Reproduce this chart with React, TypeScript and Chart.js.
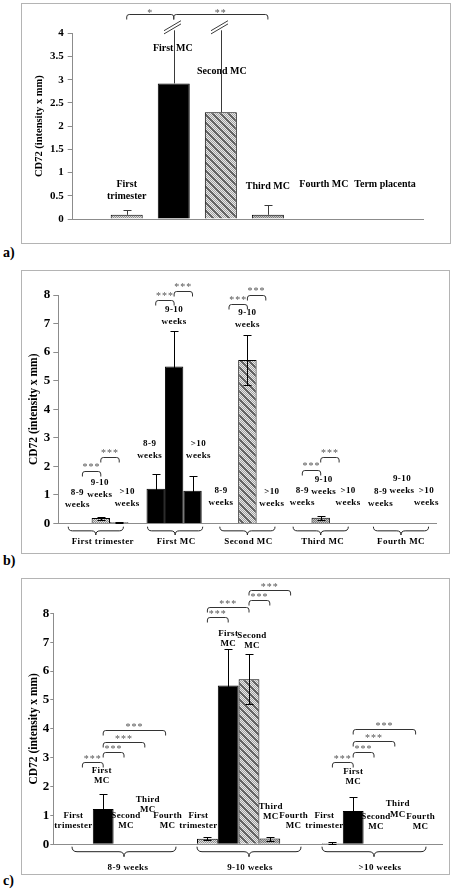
import React, { useEffect, useRef } from 'react';
import { Chart, registerables } from 'chart.js';

Chart.register(...registerables);

const SERIF = '"Liberation Serif", "Times New Roman", serif';

// ---------------- panel a ----------------
const catsA = ['First trimester', 'First MC', 'Second MC', 'Third MC', 'Fourth MC', 'Term placenta'];
const labelTextA = ['First\ntrimester', 'First MC', 'Second MC', 'Third MC', 'Fourth MC', 'Term placenta'];
const meanA = [0.09, 2.92, 2.3, 0.09, 0, 0];
const errA = [0.11, 2.6, 3.0, 0.21, 0, 0];
const yMaxA = 4;
const yStepA = 0.5;
const labelYA = [0.61, 3.68, 3.17, 0.71, 0.75, 0.75];
const labelDxA = [0, -1, 1, 0, 9, 23];
const sigFromA = [0, 1];
const sigToA = [1, 3];
const sigYA = [4.42, 4.42];
const sigTextA = ['*', '**'];

// ---------------- panels b and c ----------------
const groups = ['First trimester', 'First MC', 'Second MC', 'Third MC', 'Fourth MC'];
const weeks = ['8-9 weeks', '9-10 weeks', '>10 weeks'];
const meanFirstTrimester = [0, 0.19, 0.04];
const meanFirstMC = [1.22, 5.5, 1.15];
const meanSecondMC = [0, 5.72, 0];
const meanThirdMC = [0, 0.2, 0];
const meanFourthMC = [0, 0, 0];
const sdFirstTrimester = [0, 0.05, 0.03];
const sdFirstMC = [0.53, 1.25, 0.5];
const sdSecondMC = [0, 0.87, 0];
const sdThirdMC = [0, 0.07, 0];
const sdFourthMC = [0, 0, 0];
const means = [meanFirstTrimester, meanFirstMC, meanSecondMC, meanThirdMC, meanFourthMC];
const sds = [sdFirstTrimester, sdFirstMC, sdSecondMC, sdThirdMC, sdFourthMC];
const yMaxBC = 8;
const yStepBC = 1;

// b: label heights / offsets [group][week]
const labelYB = [[0.87, 1.22, 0.9], [2.6, 7.29, 2.6], [0.94, 7.17, 0.92], [0.94, 1.31, 0.94], [0.92, 1.35, 0.94]];
const labelDxB = [[-5, -1, 8], [-6, 0, 6], [-8, 0, 6], [0, 3, 9], [5, 8, 14]];
const sigGroupB = [0, 0, 1, 1, 2, 2, 3, 3];
const sigFromB = [0, 1, 0, 1, 0, 1, 0, 1];
const sigToB = [1, 2, 1, 2, 1, 2, 1, 2];
const sigYB = [1.84, 2.33, 7.83, 8.14, 7.7, 8.0, 1.87, 2.33];
const braceDxB = [-5, 1, 0, 0, 7];
const groupLabelDxB = [2, 2, 1, 2, 7];

// c: label heights / offsets [week][group]
const labelYC = [[0.81, 2.38, 0.81, 1.36, 0.81], [0.83, 7.12, 7.06, 1.14, 0.81], [0.81, 2.35, 0.78, 1.22, 0.78]];
const labelDxC = [[-9, -1.5, 2, 3, 2], [-9, 0, 3, 1, 3], [-8, 0, 2, 3, 5]];
const sigWeekC = [0, 0, 0, 0, 1, 1, 1, 1, 2, 2, 2, 2];
const sigFromC = [0, 1, 1, 1, 0, 0, 2, 2, 0, 1, 1, 1];
const sigToC = [1, 2, 3, 4, 1, 2, 3, 4, 1, 2, 3, 4];
const sigYC = [2.85, 3.19, 3.56, 3.97, 7.87, 8.21, 8.45, 8.8, 2.86, 3.18, 3.59, 3.98];
const weekLabelDxC = [4, 1, 6];

const fillKind: Record<string, string> = {
  'First trimester': 'dots',
  'First MC': 'black',
  'Second MC': 'diag',
  'Third MC': 'gray',
  'Fourth MC': 'dots',
  'Term placenta': 'dots',
};

function makeFill(ctx: any, name: string): any {
  const kind = fillKind[name];
  if (kind === 'black') return '#000';
  const c = document.createElement('canvas');
  const s = 8;
  c.width = s;
  c.height = s;
  const g = c.getContext('2d')!;
  for (let y = 0; y < s; y++) {
    for (let x = 0; x < s; x++) {
      let col: string;
      const odd = (x + y) % 2 === 0;
      if (kind === 'dots') col = odd ? '#8e8e8e' : '#dcdcdc';
      else if (kind === 'gray') col = odd ? '#7c7c7c' : '#c2c2c2';
      else {
        const d = (((x - y) % 8) + 8) % 8;
        col = d < 3 ? '#666' : odd ? '#a4a4a4' : '#e8e8e8';
      }
      g.fillStyle = col;
      g.fillRect(x, y, 1, 1);
    }
  }
  return ctx.createPattern(c, 'repeat');
}

const bar = (chart: any, d: number, i: number) => chart.getDatasetMeta(d).data[i] as any;
const py = (chart: any, v: number) => chart.scales.y.getPixelForValue(v);

function drawLabel(ctx: any, text: string, x: number, yc: number, lh: number) {
  const lines = text.split('\n');
  lines.forEach((ln, k) => ctx.fillText(ln, x, yc + (k - (lines.length - 1) / 2) * lh));
}

function drawErrorBars(chart: any, both: boolean, cap: number, color: string) {
  const ctx = chart.ctx;
  const ys = chart.scales.y;
  ctx.save();
  ctx.strokeStyle = color;
  ctx.lineWidth = 1;
  chart.data.datasets.forEach((ds: any, d: number) => {
    const meta = chart.getDatasetMeta(d);
    meta.data.forEach((el: any, i: number) => {
      const v = ds.data[i].y;
      const e = ds.errors[i];
      if (!e) return;
      const x = Math.round(el.x) + 0.5;
      const over = v + e > ys.max;
      const yTop = over ? ys.top - 3 : Math.round(ys.getPixelForValue(v + e)) + 0.5;
      const lowV = Math.max(v - e, ys.min);
      const yBot = both ? Math.round(ys.getPixelForValue(lowV)) + 0.5 : ys.getPixelForValue(v);
      ctx.beginPath();
      ctx.moveTo(x, yBot);
      ctx.lineTo(x, yTop);
      if (!over) {
        ctx.moveTo(x - cap, yTop);
        ctx.lineTo(x + cap, yTop);
      }
      if (both && v - e > ys.min) {
        ctx.moveTo(x - cap, yBot);
        ctx.lineTo(x + cap, yBot);
      }
      ctx.stroke();
      if (over) {
        const cx = x - 2;
        const cy = ys.top - 6;
        [-1.6, 1.6].forEach((off) => {
          ctx.beginPath();
          ctx.moveTo(cx - 8.5, cy + 5 + off);
          ctx.lineTo(cx + 8.5, cy - 5 + off);
          ctx.stroke();
        });
      }
    });
  });
  ctx.restore();
}

function drawSig(ctx: any, x1: number, x2: number, yRaw: number, text: string, starDy: number) {
  const h = 5;
  const r = 2.5;
  const y = Math.round(yRaw) + 0.5;
  ctx.beginPath();
  ctx.moveTo(x1, y + h);
  ctx.lineTo(x1, y + r);
  ctx.quadraticCurveTo(x1, y, x1 + r, y);
  ctx.lineTo(x2 - r, y);
  ctx.quadraticCurveTo(x2, y, x2, y + r);
  ctx.lineTo(x2, y + h);
  ctx.stroke();
  ctx.fillText(text, (x1 + x2) / 2, y + starDy);
}

function drawBrace(ctx: any, x1: number, x2: number, y: number, h: number) {
  const xm = (x1 + x2) / 2;
  const ym = y + h / 2;
  const r = Math.min(h / 2, 6);
  ctx.beginPath();
  ctx.moveTo(x1, y);
  ctx.quadraticCurveTo(x1, ym, x1 + r, ym);
  ctx.lineTo(xm - r, ym);
  ctx.quadraticCurveTo(xm, ym, xm, y + h);
  ctx.quadraticCurveTo(xm, ym, xm + r, ym);
  ctx.lineTo(x2 - r, ym);
  ctx.quadraticCurveTo(x2, ym, x2, y);
  ctx.stroke();
}

function yAxis(max: number, step: number, tickSize: number, titleSize: number, width: number, titlePad: number, tickLen: number, tickPad: number) {
  return {
    min: 0,
    max,
    ticks: {
      stepSize: step,
      font: { family: SERIF, weight: 'bold', size: tickSize },
      color: '#000',
      padding: tickPad,
      callback: (v: any) => `${v}`,
    },
    grid: { drawOnChartArea: false, drawTicks: true, tickLength: tickLen, color: '#8c8c8c' },
    border: { display: true, color: '#8c8c8c', width: 1 },
    title: {
      display: true,
      text: 'CD72 (intensity x mm)',
      font: { family: SERIF, weight: 'bold', size: titleSize },
      color: '#000',
      padding: { top: titlePad, bottom: 0 },
    },
    afterFit: (s: any) => {
      s.width = width;
    },
  };
}

function xAxis(min: number, max: number, tickVals: number[]) {
  return {
    type: 'linear',
    min,
    max,
    offset: false,
    afterBuildTicks: (s: any) => {
      s.ticks = tickVals.map((v) => ({ value: v }));
    },
    ticks: { display: false },
    grid: { display: false, offset: false },
    border: { display: true, color: '#8c8c8c', width: 1 },
    afterFit: (s: any) => {
      s.height = 0;
    },
  };
}

const commonOpts = {
  animation: false,
  responsive: false,
  maintainAspectRatio: false,
  events: [],
  plugins: { legend: { display: false }, tooltip: { enabled: false } },
};

// ---------------- builders ----------------
function buildA(ctx: any) {
  const datasets = catsA.map((name, i) => ({
    label: name,
    data: [{ x: 0, y: meanA[i] }],
    errors: [errA[i]],
    backgroundColor: makeFill(ctx, name),
    borderColor: '#000',
    borderWidth: 1,
    categoryPercentage: 0.806,
    barPercentage: 0.68,
  }));
  const plugin = {
    id: 'annotA',
    beforeDatasetsDraw(chart: any) {
      const c = chart.ctx;
      c.save();
      c.font = `bold 10px ${SERIF}`;
      c.fillStyle = '#000';
      c.textAlign = 'center';
      c.textBaseline = 'middle';
      labelTextA.forEach((t, i) => {
        drawLabel(c, t, bar(chart, i, 0).x + labelDxA[i], py(chart, labelYA[i]), 12.3);
      });
      c.restore();
    },
    afterDatasetsDraw(chart: any) {
      drawErrorBars(chart, false, 4, '#3a3a3a');
    },
    afterDraw(chart: any) {
      const c = chart.ctx;
      c.save();
      c.strokeStyle = '#333';
      c.fillStyle = '#555';
      c.lineWidth = 1;
      c.font = `10px ${SERIF}`;
      c.textAlign = 'center';
      c.textBaseline = 'alphabetic';
      (c as any).letterSpacing = '1px';
      sigFromA.forEach((f, k) => {
        drawSig(c, bar(chart, f, 0).x, bar(chart, sigToA[k], 0).x, py(chart, sigYA[k]), sigTextA[k], 1);
      });
      c.restore();
    },
  };
  return {
    type: 'bar',
    data: { datasets },
    options: {
      ...commonOpts,
      layout: { padding: { left: 0, top: 29.3, right: 27, bottom: 24 } },
      scales: {
        x: xAxis(-0.49, 0.51, [0]),
        y: yAxis(yMaxA, yStepA, 11, 10.5, 50.7, 11, 5, 4),
      },
    },
    plugins: [plugin],
  };
}

function buildB(ctx: any) {
  const datasets = weeks.map((w, wi) => ({
    label: w,
    data: groups.map((g, gi) => ({ x: gi, y: means[gi][wi] })),
    errors: groups.map((g, gi) => sds[gi][wi]),
    backgroundColor: groups.map((g) => makeFill(ctx, g)),
    borderColor: '#000',
    borderWidth: 1,
    categoryPercentage: 0.753,
    barPercentage: 1,
  }));
  const plugin = {
    id: 'annotB',
    beforeDatasetsDraw(chart: any) {
      const c = chart.ctx;
      c.save();
      c.font = `bold 9px ${SERIF}`;
      c.fillStyle = '#000';
      c.textAlign = 'center';
      c.textBaseline = 'middle';
      (c as any).letterSpacing = '0.4px';
      groups.forEach((g, gi) =>
        weeks.forEach((w, wi) => {
          drawLabel(c, w.replace(' ', '\n'), bar(chart, wi, gi).x + labelDxB[gi][wi], py(chart, labelYB[gi][wi]), 12);
        })
      );
      c.restore();
    },
    afterDatasetsDraw(chart: any) {
      drawErrorBars(chart, true, 4, '#000');
    },
    afterDraw(chart: any) {
      const c = chart.ctx;
      c.save();
      c.strokeStyle = '#333';
      c.fillStyle = '#555';
      c.lineWidth = 1;
      c.font = `10px ${SERIF}`;
      c.textAlign = 'center';
      c.textBaseline = 'alphabetic';
      (c as any).letterSpacing = '1px';
      sigGroupB.forEach((g, k) => {
        drawSig(c, bar(chart, sigFromB[k], g).x, bar(chart, sigToB[k], g).x, py(chart, sigYB[k]), '***', -2);
      });
      const bottom = chart.chartArea.bottom;
      c.strokeStyle = '#222';
      c.fillStyle = '#000';
      c.font = `bold 9px ${SERIF}`;
      c.textBaseline = 'middle';
      (c as any).letterSpacing = '0.4px';
      groups.forEach((g, gi) => {
        const first = bar(chart, 0, gi);
        const last = bar(chart, weeks.length - 1, gi);
        const x1 = first.x - first.width / 2 + braceDxB[gi];
        const x2 = last.x + last.width / 2 + braceDxB[gi];
        drawBrace(c, x1, x2, bottom + 3.2, 8.3);
        c.fillText(g, (first.x + last.x) / 2 + groupLabelDxB[gi], bottom + 18.5);
      });
      c.restore();
    },
  };
  return {
    type: 'bar',
    data: { datasets },
    options: {
      ...commonOpts,
      layout: { padding: { left: 0, top: 24, right: 13, bottom: 29.5 } },
      scales: {
        x: xAxis(-0.58, 4.573, groups.map((g, i) => i)),
        y: yAxis(yMaxBC, yStepBC, 13, 11.5, 36.3, 5, 5, 3),
      },
    },
    plugins: [plugin],
  };
}

function buildC(ctx: any) {
  const datasets = groups.map((g, gi) => ({
    label: g,
    data: weeks.map((w, wi) => ({ x: wi, y: means[gi][wi] })),
    errors: weeks.map((w, wi) => sds[gi][wi]),
    backgroundColor: makeFill(ctx, g),
    borderColor: '#000',
    borderWidth: 1,
    categoryPercentage: 0.832,
    barPercentage: 1,
  }));
  const plugin = {
    id: 'annotC',
    beforeDatasetsDraw(chart: any) {
      const c = chart.ctx;
      c.save();
      c.font = `bold 9px ${SERIF}`;
      c.fillStyle = '#000';
      c.textAlign = 'center';
      c.textBaseline = 'middle';
      (c as any).letterSpacing = '0.3px';
      weeks.forEach((w, wi) =>
        groups.forEach((g, gi) => {
          drawLabel(c, g.replace(' ', '\n'), bar(chart, gi, wi).x + labelDxC[wi][gi], py(chart, labelYC[wi][gi]), 10.2);
        })
      );
      c.restore();
    },
    afterDatasetsDraw(chart: any) {
      drawErrorBars(chart, true, 4, '#000');
    },
    afterDraw(chart: any) {
      const c = chart.ctx;
      c.save();
      c.strokeStyle = '#333';
      c.fillStyle = '#555';
      c.lineWidth = 1;
      c.font = `10px ${SERIF}`;
      c.textAlign = 'center';
      c.textBaseline = 'alphabetic';
      (c as any).letterSpacing = '1px';
      sigWeekC.forEach((w, k) => {
        drawSig(c, bar(chart, sigFromC[k], w).x, bar(chart, sigToC[k], w).x, py(chart, sigYC[k]), '***', -1);
      });
      const bottom = chart.chartArea.bottom;
      c.strokeStyle = '#222';
      c.fillStyle = '#000';
      c.font = `bold 9px ${SERIF}`;
      c.textBaseline = 'middle';
      (c as any).letterSpacing = '0.4px';
      weeks.forEach((w, wi) => {
        const first = bar(chart, 0, wi);
        const last = bar(chart, groups.length - 1, wi);
        drawBrace(c, first.x - first.width / 2, last.x + last.width / 2, bottom + 2.4, 10);
        c.fillText(w, (first.x + last.x) / 2 + weekLabelDxC[wi], bottom + 23.4);
      });
      c.restore();
    },
  };
  return {
    type: 'bar',
    data: { datasets },
    options: {
      ...commonOpts,
      layout: { padding: { left: 0, top: 34.3, right: 6.3, bottom: 29.7 } },
      scales: {
        x: xAxis(-0.5656, 2.5496, weeks.map((w, i) => i)),
        y: yAxis(yMaxBC, yStepBC, 13, 11.5, 31.3, 5.5, 3, 1),
      },
    },
    plugins: [plugin],
  };
}

function ChartPanel({ left, top, width, height, build }: any) {
  const ref = useRef<HTMLCanvasElement>(null);
  useEffect(() => {
    const canvas = ref.current!;
    const chart = new Chart(canvas, build(canvas.getContext('2d')) as any);
    return () => chart.destroy();
  }, []);
  return (
    <div
      style={{
        position: 'absolute',
        left,
        top,
        width,
        height,
        border: '1px solid #b4b4b4',
        boxSizing: 'border-box',
        background: '#fff',
      }}
    >
      <canvas ref={ref} width={width - 2} height={height - 2} style={{ display: 'block', width: width - 2, height: height - 2 }} />
    </div>
  );
}

const tagStyle = (top: number): React.CSSProperties => ({
  position: 'absolute',
  left: 3,
  top,
  font: `bold 14px ${SERIF}`,
  lineHeight: '14px',
  color: '#000',
});

export default function App() {
  return (
    <div style={{ position: 'absolute', left: 0, top: 0, width: 455, height: 891, background: '#fff' }}>
      <ChartPanel left={21} top={3} width={430} height={241} build={buildA} />
      <div style={tagStyle(245.5)}>a)</div>
      <ChartPanel left={21} top={270} width={429} height={284} build={buildB} />
      <div style={tagStyle(554)}>b)</div>
      <ChartPanel left={21} top={578} width={429} height={297} build={buildC} />
      <div style={tagStyle(873.5)}>c)</div>
    </div>
  );
}
